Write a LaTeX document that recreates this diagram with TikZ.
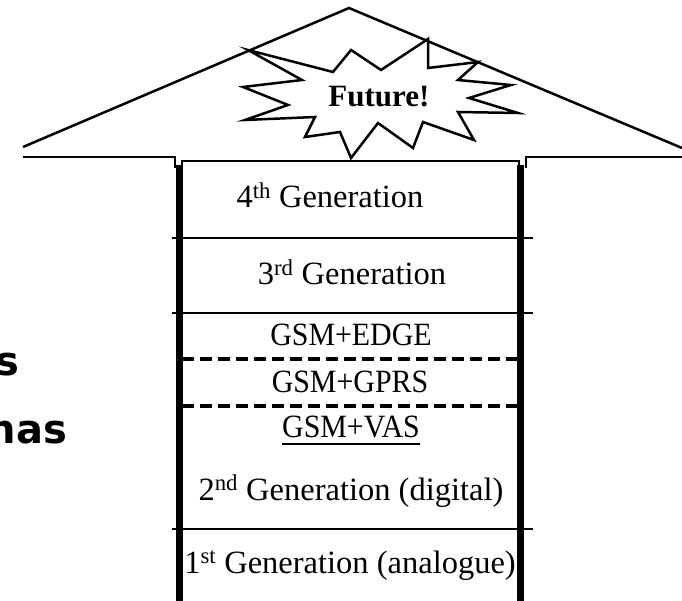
\documentclass[tikz,border=0pt]{standalone}
\usepackage{fontspec}
\setmainfont{Liberation Serif}
\newfontfamily\narrowserif[FakeStretch=0.92]{Liberation Serif}
\newfontfamily\cutsans{DejaVu Sans}
\tikzset{
  gen/.style={font=\fontsize{32.5}{39}\selectfont,inner sep=0pt,anchor=base},
  gsm/.style={font=\narrowserif\fontsize{32.5}{39}\selectfont,inner sep=0pt,anchor=base},
  cut/.style={font=\cutsans\bfseries\fontsize{40}{48}\selectfont,inner sep=0pt,anchor=base east},
  outline/.style={line width=2.5pt,line join=miter},
  wall/.style={line width=7pt}
}
\begin{document}
\begin{tikzpicture}[x=1pt,y=-1pt]
\useasboundingbox (0,0) rectangle (682,601);

% Roof of the arrow
\draw[outline] (23,147) -- (349,8) -- (682,148);
\draw[outline] (23,157) -- (175,157) -- (175,168);
\draw[outline] (182,168) -- (182,161) -- (519,161) -- (519,168);
\draw[outline] (526,168) -- (526,157) -- (682,157);

% Star burst
\draw[outline] (248,50) -- (333,72) -- (351,50) -- (381,70) -- (428,39) -- (428,68)
  -- (478,62) -- (458,80) -- (511,85) -- (469,98) -- (518,113) -- (458,112)
  -- (474,140) -- (423,122) -- (413,148) -- (378,123) -- (351,158) -- (340,132)
  -- (305,137) -- (315,117) -- (245,120) -- (288,105) -- (243,87) -- (302,80) -- cycle;
\node[font=\bfseries\fontsize{31}{37}\selectfont,inner sep=0pt,anchor=base] (future) at (379,107) {Future!};

% Shaft walls
\draw[wall] (179,165) -- (179,601);
\draw[wall] (520,165) -- (520,601);

% Dividers
\foreach \y in {238,313,529} {
    \draw[line width=2pt] (172,\y) -- (533,\y);
}
\foreach \y in {359,406} {
    \draw[line width=3.5pt,dash pattern=on 12pt off 6pt] (182,\y) -- (518,\y);
}

% Generations
\node[gen] (gen4) at (330,208) {4\textsuperscript{th} Generation};
\node[gen] (gen3) at (352,285) {3\textsuperscript{rd} Generation};
\node[gsm] (edge) at (351,345) {GSM+EDGE};
\node[gsm] (gprs) at (350,392) {GSM+GPRS};
\node[gsm] (vas) at (351,437) {GSM+VAS};
\draw[line width=1.5pt] ([yshift=-7pt]vas.base west) -- ([yshift=-7pt]vas.base east);
\node[gen] (gen2) at (351,500) {2\textsuperscript{nd} Generation (digital)};
\node[gen] (gen1) at (350,573) {1\textsuperscript{st} Generation (analogue)};

% Text cut off at the left edge
\node[cut] (cuts) at (20,375) {s};
\node[cut] (cutnas) at (67,443) {nas};
\end{tikzpicture}
\end{document}
